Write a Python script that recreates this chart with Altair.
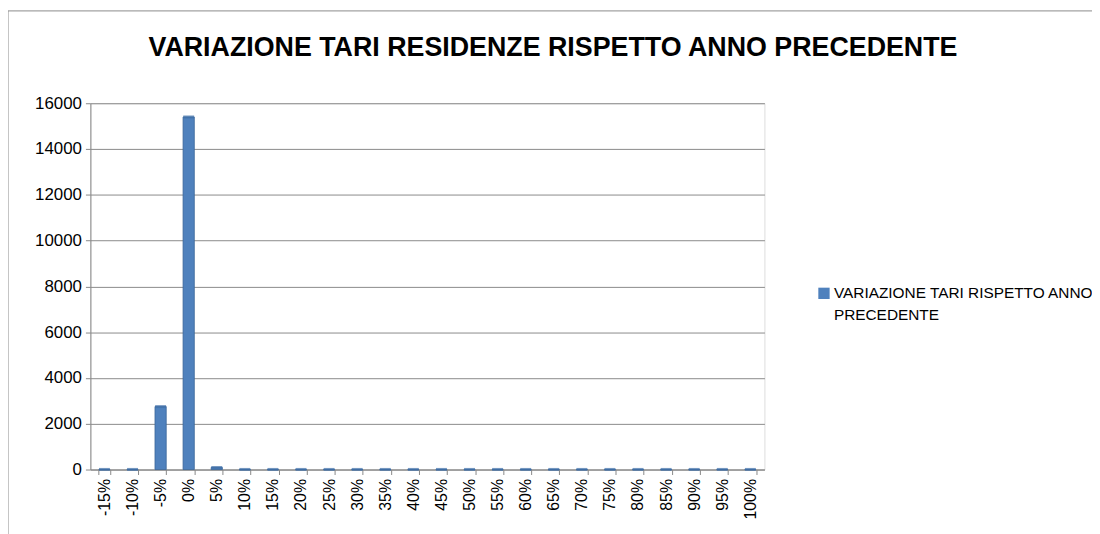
import altair as alt
import pandas as pd

categories = ["-15%", "-10%", "-5%", "0%", "5%", "10%", "15%", "20%", "25%", "30%",
              "35%", "40%", "45%", "50%", "55%", "60%", "65%", "70%", "75%", "80%",
              "85%", "90%", "95%", "100%"]
values = [5, 5, 2750, 15400, 90, 5, 5, 5, 5, 5,
          5, 5, 5, 5, 5, 5, 5, 5, 5, 5,
          5, 5, 5, 5]
series_name = "VARIAZIONE TARI RISPETTO ANNO PRECEDENTE"
legend_label = "VARIAZIONE TARI RISPETTO ANNO|PRECEDENTE"
title_text = "VARIAZIONE TARI RESIDENZE RISPETTO ANNO PRECEDENTE"
y_ticks = [0, 2000, 4000, 6000, 8000, 10000, 12000, 14000, 16000]

df = pd.DataFrame({"cat": categories, "val": values, "serie": [series_name] * len(categories)})

FONT = "Liberation Sans"
BLUE = "#4F81BD"

xenc = alt.X("cat:N", sort=categories, title=None,
             scale=alt.Scale(paddingInner=0.6, paddingOuter=0.3),
             axis=alt.Axis(labelAngle=-90, labelFont=FONT, labelFontSize=16, labelColor="#000",
                           domainColor="#888", tickColor="#888", tickBand="extent", tickSize=5,
                           labelPadding=4, grid=False))
yenc = alt.Y("val:Q", title=None,
             scale=alt.Scale(domain=[0, 16000], nice=False),
             axis=alt.Axis(values=y_ticks, format="d", labelFont=FONT, labelFontSize=17,
                           labelColor="#000", domainColor="#888", tickColor="#888", tickSize=5,
                           labelPadding=4, gridColor="#8a8a8a", grid=True))

border = alt.Chart(pd.DataFrame({"k": [0]})).mark_rect(
    fill=None, stroke="#8a8a8a", strokeWidth=1
).encode(x=alt.value(-83), x2=alt.value(1100), y=alt.value(-93), y2=alt.value(600))

title = alt.Chart(pd.DataFrame({"t": [title_text]})).mark_text(
    font=FONT, fontWeight="bold", fontSize=27, color="#000",
    align="center", baseline="middle"
).encode(text="t:N", x=alt.value(466), y=alt.value(-56))

bars = alt.Chart(df).mark_bar(stroke="#3A6699", strokeWidth=0.8, color=BLUE).encode(
    x=xenc, y=yenc
)

caps = alt.Chart(df).mark_tick(color="#3F6FA8", thickness=3, size=11).encode(
    x=alt.X("cat:N", sort=categories), y="val:Q"
)

leg_df = pd.DataFrame({"lab": [legend_label]})
leg_sym = alt.Chart(leg_df).mark_square(size=130, color=BLUE, opacity=1).encode(
    x=alt.value(739), y=alt.value(191.5)
)
leg_txt = alt.Chart(leg_df).mark_text(
    font=FONT, fontSize=15.5, color="#000", align="left", baseline="top",
    lineBreak="|", lineHeight=22
).encode(text="lab:N", x=alt.value(749), y=alt.value(184))

chart = alt.layer(border, bars, caps, title, leg_sym, leg_txt).properties(
    width=679, height=369,
    autosize=alt.AutoSizeParams(type="none"),
    padding={"left": 83, "top": 94, "right": 330, "bottom": 63}
).configure_view(stroke=None).configure(background="white")

chart.save("out.html", embed_options={"renderer": "svg", "actions": False})
